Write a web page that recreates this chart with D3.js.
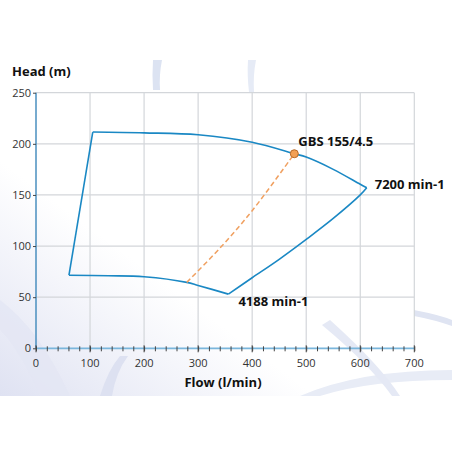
<html>
  <head>
    <script src="https://d3js.org/d3.v7.min.js"></script>
    <style>
      body { margin: 0; background: #fff; }
      text { font-family: "Open Sans", "Noto Sans", sans-serif; }
    </style>
  </head>
  <body>
    <svg width="452" height="452" id="chart"></svg>
    <script>
      // pump curve data (flow l/min, head m)
      const curve7200 = [
        [105, 211.5], [200, 210.7], [300, 208.8], [400, 201.5],
        [478, 190.3], [500, 187], [550, 175], [600, 160.4], [612, 157]
      ];
      const rightEdge = [
        [356, 53], [400, 69], [450, 87], [500, 106.5], [550, 127], [600, 150], [612, 157]
      ];
      const curve4188 = [
        [61, 71.5], [134, 71], [200, 70], [279, 64.5], [300, 61.5], [356, 53]
      ];
      const leftEdge = [[61, 71.5], [105, 211.5]];
      const dutyLine = [[279, 64.5], [340, 97.8], [400, 134.6], [478, 190.3]];
      const dutyPoint = [478, 190.3];

      const xTicks = [0, 100, 200, 300, 400, 500, 600, 700];
      const yTicks = [0, 50, 100, 150, 200, 250];
      const labels = [
        { text: "GBS 155/4.5", x: 478, y: 190.3, dx: 4, dy: -8 },
        { text: "7200 min-1", x: 612, y: 157, dx: 8, dy: 1 },
        { text: "4188 min-1", x: 356, y: 53, dx: 10, dy: 12 }
      ];

      const svg = d3.select("svg#chart");

      // faint background panel
      const defs = svg.append("defs");
      const grad = defs.append("linearGradient").attr("id", "bg")
        .attr("x1", 0).attr("y1", 1).attr("x2", 1).attr("y2", 0);
      grad.append("stop").attr("offset", "0%").attr("stop-color", "#dfe2f2");
      grad.append("stop").attr("offset", "35%").attr("stop-color", "#ffffff");
      grad.append("stop").attr("offset", "100%").attr("stop-color", "#ffffff");
      svg.append("rect").attr("x", 0).attr("y", 60).attr("width", 452).attr("height", 336)
        .attr("fill", "url(#bg)");
      // swirl bands
      svg.append("path").attr("d", "M153,60 L162,60 Q159,75 160,90 L153,90 Q152,75 153,60Z")
        .attr("fill", "#dce3f2");
      svg.append("path").attr("d", "M248,60 L256,60 Q253,75 254,92 L249,92 Q247,75 248,60Z")
        .attr("fill", "#e6ebf6");
      svg.append("path").attr("d", "M0,300 Q40,330 70,396 L40,396 Q20,350 0,330Z")
        .attr("fill", "#e3e6f4").attr("opacity", 0.8);
      svg.append("path").attr("d", "M100,396 Q108,370 120,356 L128,356 Q116,372 112,396Z")
        .attr("fill", "#dde1f1");
      svg.append("path").attr("d", "M300,396 Q360,370 452,370 L452,380 Q370,380 320,396Z")
        .attr("fill", "#e8ecf6");
      svg.append("path").attr("d", "M330,320 Q380,365 400,396 L392,396 Q370,365 322,325Z")
        .attr("fill", "#e5e9f5");
      svg.append("path").attr("d", "M414,310 Q440,315 452,320 L452,326 Q435,320 414,316Z")
        .attr("fill", "#dfe4f2");

      const x = d3.scaleLinear().domain([0, 700]).range([36, 414.3]);
      const y = d3.scaleLinear().domain([0, 250]).range([348.3, 92.7]);

      // grid
      svg.append("g").selectAll("line").data(xTicks.slice(1)).join("line")
        .attr("x1", d => x(d)).attr("x2", d => x(d))
        .attr("y1", y(250)).attr("y2", y(0))
        .style("stroke", "#d3d6da").style("stroke-width", 1.2);
      svg.append("g").selectAll("line").data(yTicks.slice(1)).join("line")
        .attr("x1", x(0)).attr("x2", x(700))
        .attr("y1", d => y(d)).attr("y2", d => y(d))
        .style("stroke", "#d3d6da").style("stroke-width", 1.2);

      // y axis
      const yAxis = svg.append("g")
        .attr("transform", `translate(${x(0)},0)`)
        .call(d3.axisLeft(y).tickValues(yTicks).tickSize(3).tickPadding(2));
      yAxis.select(".domain").attr("d", `M0,${y(0)}V${y(250)}`)
        .style("stroke", "#4a8fbf").style("stroke-width", 1.5);
      yAxis.selectAll(".tick line").style("stroke", "#444");
      yAxis.selectAll("text").style("font-size", "11px").style("fill", "#333");

      // x axis with minor ticks
      const xAxis = svg.append("g")
        .attr("transform", `translate(0,${y(0)})`)
        .call(d3.axisBottom(x).tickValues(d3.range(0, 701, 20)).tickSize(3).tickFormat(""));
      xAxis.selectAll(".tick line").attr("y1", -2).style("stroke", "#444");
      xAxis.select(".domain").attr("d", `M${x(0)},0H${x(700)}`)
        .style("stroke", "#7ab6dc").style("stroke-width", 1.8);
      svg.append("g").selectAll("text").data(xTicks).join("text")
        .attr("x", d => x(d)).attr("y", y(0) + 19)
        .attr("text-anchor", "middle")
        .style("font-size", "11px").style("fill", "#333")
        .text(d => d);
      svg.append("g").selectAll("line").data(xTicks).join("line")
        .attr("x1", d => x(d)).attr("x2", d => x(d))
        .attr("y1", y(0) - 3).attr("y2", y(0) + 4)
        .style("stroke", "#444");

      // operating range outline
      const smooth = d3.line().x(d => x(d[0])).y(d => y(d[1])).curve(d3.curveCatmullRom);
      const straight = d3.line().x(d => x(d[0])).y(d => y(d[1]));
      [curve7200, rightEdge, curve4188].forEach(c => {
        svg.append("path").attr("d", smooth(c))
          .attr("fill", "none").style("stroke", "#1a88c4").style("stroke-width", 1.6);
      });
      svg.append("path").attr("d", straight(leftEdge))
        .attr("fill", "none").style("stroke", "#1a88c4").style("stroke-width", 1.6);

      // duty line and point
      svg.append("path").attr("d", smooth(dutyLine))
        .attr("fill", "none").style("stroke", "#f0a060").style("stroke-width", 1.5)
        .style("stroke-dasharray", "5,3");
      svg.append("circle")
        .attr("cx", x(dutyPoint[0])).attr("cy", y(dutyPoint[1])).attr("r", 4)
        .attr("fill", "#f2a055").style("stroke", "#b86a28").style("stroke-width", 1);

      // labels
      svg.append("g").selectAll("text").data(labels).join("text")
        .attr("x", d => x(d.x) + d.dx).attr("y", d => y(d.y) + d.dy)
        .style("font-size", "13px").style("font-weight", "bold").style("fill", "#111")
        .text(d => d.text);

      svg.append("text").attr("x", 12).attr("y", 76)
        .style("font-size", "13px").style("font-weight", "bold").style("fill", "#111")
        .text("Head (m)");
      svg.append("text").attr("x", 223).attr("y", 387).attr("text-anchor", "middle")
        .style("font-size", "13px").style("font-weight", "bold").style("fill", "#111")
        .text("Flow (l/min)");
    </script>
  </body>
</html>
